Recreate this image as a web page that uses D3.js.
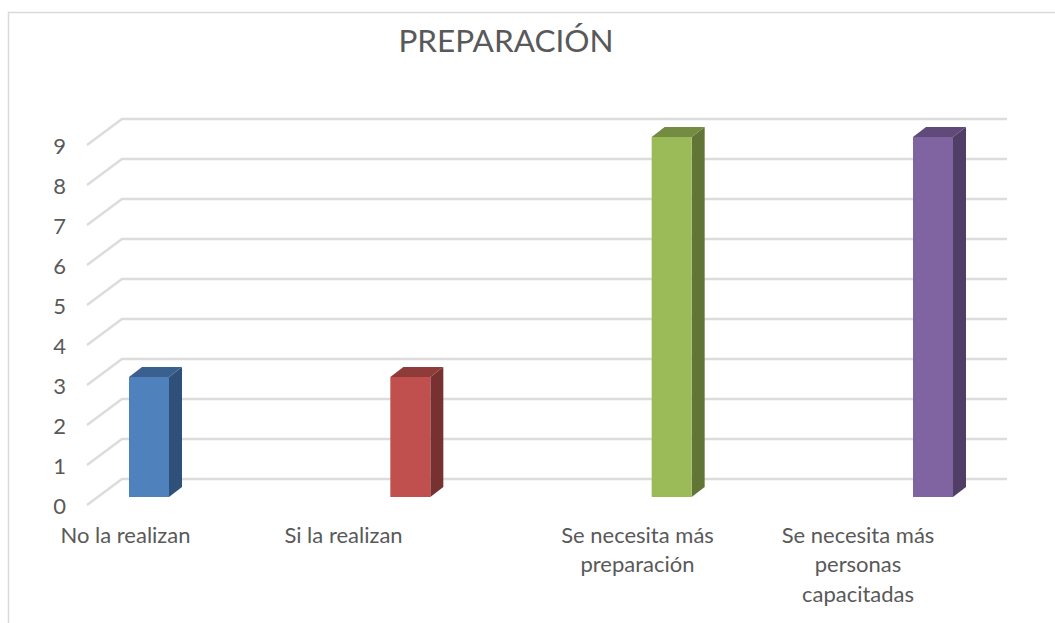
<!DOCTYPE html>
<html>
<head>
<meta charset="utf-8">
<script src="https://cdn.jsdelivr.net/npm/d3@7"></script>
<style>
    html, body { margin: 0; padding: 0; background: #fff; }
    svg { display: block; }
    text { font-family: Lato, "Open Sans", sans-serif; fill: #595959; }
</style>
</head>
<body>
<svg width="1055" height="623"></svg>
<script>
var titleText = "PREPARACIÓN";
var categories = ["No la realizan", "Si la realizan", "Se necesita más preparación", "Se necesita más personas capacitadas"];
var labelLines = [["No la realizan"], ["Si la realizan"], ["Se necesita más", "preparación"], ["Se necesita más", "personas", "capacitadas"]];
var values = [3, 3, 9, 9];
var yTicks = [0, 1, 2, 3, 4, 5, 6, 7, 8, 9];
var frontColors = ["#4f81bd", "#c0504d", "#9bbb59", "#8064a2"];
var topColors = ["#3a6090", "#8f3b39", "#748c42", "#5f4a79"];
var sideColors = ["#2f5078", "#773130", "#617537", "#503e66"];

var svg = d3.select("svg");

// chart frame, only top and left edges show in the picture
svg.append("path")
    .attr("d", "M8.5,623V12.5H1055")
    .attr("fill", "none")
    .attr("stroke", "#d9d9d9")
    .attr("stroke-width", 1.5);

svg.append("text")
    .attr("x", 506)
    .attr("y", 52)
    .attr("text-anchor", "middle")
    .style("font-size", "31.5px")
    .text(titleText);

// value scale on the front plane, the back wall is shifted by depth
var y = d3.scaleLinear().domain([0, 9]).range([505, 145]);
var x = d3.scalePoint().domain(categories).range([149, 933]);
var labelX = d3.scaleOrdinal().domain(categories).range([125.5, 343.5, 637.5, 858]);

var wallDx = 35, wallDy = -26;
var barW = 40, barDx = 13, barDy = -10, barShift = -8;

var grid = svg.append("g").attr("fill", "none").attr("stroke", "#dcdcdc").attr("stroke-width", 2.5);
grid.selectAll("path")
    .data(yTicks)
    .enter().append("path")
    .attr("d", function (d) {
        var p = d3.path();
        p.moveTo(87, y(d));
        p.lineTo(87 + wallDx, y(d) + wallDy);
        p.lineTo(1007, y(d) + wallDy);
        return p.toString();
    });

var axis = svg.append("g")
    .attr("transform", "translate(66,0)")
    .call(d3.axisLeft(y).tickValues(yTicks).tickSize(0).tickPadding(0).tickFormat(d3.format("d")));
axis.select(".domain").remove();
axis.selectAll("text")
    .attr("x", 0)
    .attr("y", 1.5)
    .attr("text-anchor", "end")
    .style("font-size", "22px");

var bar = svg.selectAll(".bar")
    .data(values)
    .enter().append("g")
    .attr("class", "bar");

function polygon(points) {
    return points.map(function (p) { return p.join(","); }).join(" ");
}

// side face
bar.append("polygon")
    .attr("fill", function (d, i) { return sideColors[i]; })
    .attr("points", function (d, i) {
        var x1 = x(categories[i]) + barW / 2, top = y(d) + barShift, bottom = y(0) + barShift;
        return polygon([[x1, top], [x1 + barDx, top + barDy], [x1 + barDx, bottom + barDy], [x1, bottom]]);
    });

// top face
bar.append("polygon")
    .attr("fill", function (d, i) { return topColors[i]; })
    .attr("points", function (d, i) {
        var x0 = x(categories[i]) - barW / 2, top = y(d) + barShift;
        return polygon([[x0, top], [x0 + barW, top], [x0 + barW + barDx, top + barDy], [x0 + barDx, top + barDy]]);
    });

// front face
bar.append("rect")
    .attr("x", function (d, i) { return x(categories[i]) - barW / 2; })
    .attr("y", function (d) { return y(d) + barShift; })
    .attr("width", barW)
    .attr("height", function (d) { return y(0) - y(d); })
    .attr("fill", function (d, i) { return frontColors[i]; });

svg.selectAll(".cat")
    .data(categories)
    .enter().append("text")
    .attr("class", "cat")
    .attr("text-anchor", "middle")
    .style("font-size", "22px")
    .selectAll("tspan")
    .data(function (d, i) {
        return labelLines[i].map(function (l) { return { line: l, cat: d }; });
    })
    .enter().append("tspan")
    .attr("x", function (d) { return labelX(d.cat); })
    .attr("y", function (d, i) { return 543 + i * 29.4; })
    .text(function (d) { return d.line; });
</script>
</body>
</html>
